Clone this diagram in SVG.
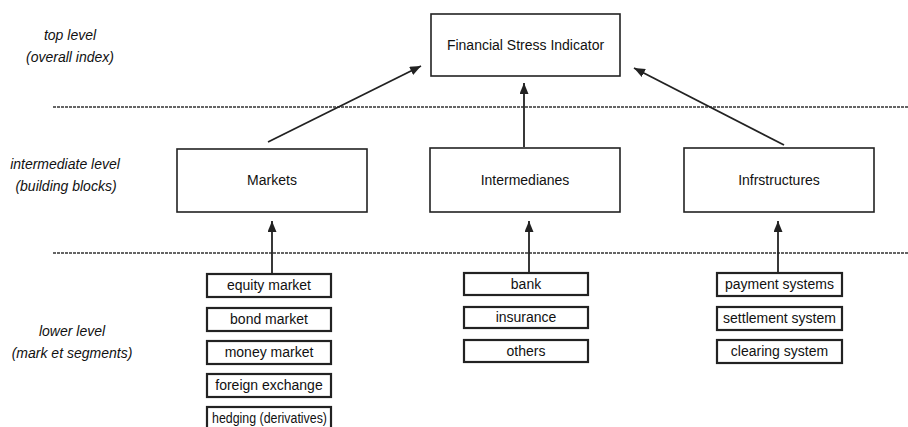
<svg xmlns="http://www.w3.org/2000/svg" width="908" height="427" viewBox="0 0 908 427">
<style>
text{font-family:"Liberation Sans",Arial,sans-serif;font-size:14px;fill:#111;text-anchor:middle}
.lvl{font-style:italic}
.big{fill:#fff;stroke:#222;stroke-width:1.6}
.small{fill:#fff;stroke:#222;stroke-width:2.2}
.dash{stroke:#333;stroke-width:1.6;stroke-dasharray:3 1;fill:none}
.conn{stroke:#222;stroke-width:1.8;fill:none;marker-end:url(#ah)}
</style>
<defs>
<marker id="ah" markerUnits="userSpaceOnUse" markerWidth="11" markerHeight="9" refX="11" refY="4.5" orient="auto">
<path d="M0,0 L11,4.5 L0,9 z" fill="#222"/>
</marker>
</defs>
<rect width="908" height="427" fill="#fff"/>
<g id="levels">
<text class="lvl" x="70" y="40">top level</text>
<text class="lvl" x="70" y="62">(overall index)</text>
<text class="lvl" x="65" y="169">intermediate level</text>
<text class="lvl" x="66" y="191">(building blocks)</text>
<text class="lvl" x="72" y="336">lower level</text>
<text class="lvl" x="72" y="358">(mark et segments)</text>
</g>
<g id="separators">
<line class="dash" x1="53" y1="107" x2="908" y2="107"/>
<line class="dash" x1="53" y1="253" x2="908" y2="253"/>
</g>
<g id="fsi"><rect class="big" x="431" y="14" width="189" height="62"/><text x="525.5" y="50">Financial Stress Indicator</text></g>
<g id="markets"><rect class="big" x="177" y="149" width="190" height="63"/><text x="272" y="185">Markets</text></g>
<g id="intermediaries"><rect class="big" x="430" y="148" width="190" height="64"/><text x="525" y="185">Intermedianes</text></g>
<g id="infrastructures"><rect class="big" x="684" y="148" width="190" height="64"/><text x="779" y="185">Infrstructures</text></g>
<g id="equity"><rect class="small" x="207" y="274" width="124" height="23"/><text x="269" y="290">equity market</text></g>
<g id="bond"><rect class="small" x="207" y="308" width="124" height="23"/><text x="269" y="324">bond market</text></g>
<g id="money"><rect class="small" x="207" y="341" width="124" height="23"/><text x="269" y="357">money market</text></g>
<g id="fx"><rect class="small" x="207" y="374" width="124" height="23"/><text x="269" y="390">foreign exchange</text></g>
<g id="hedging"><rect class="small" x="207" y="407" width="124" height="23"/><text x="269.5" y="423" textLength="115" lengthAdjust="spacingAndGlyphs">hedging (derivatives)</text></g>
<g id="bank"><rect class="small" x="464" y="273" width="124" height="22"/><text x="526" y="289">bank</text></g>
<g id="insurance"><rect class="small" x="464" y="307" width="124" height="21"/><text x="526" y="322">insurance</text></g>
<g id="others"><rect class="small" x="464" y="340" width="124" height="22"/><text x="526" y="356">others</text></g>
<g id="payment"><rect class="small" x="717" y="273" width="125" height="23"/><text x="779.5" y="289">payment systems</text></g>
<g id="settlement"><rect class="small" x="717" y="307" width="125" height="23"/><text x="779.5" y="323">settlement system</text></g>
<g id="clearing"><rect class="small" x="717" y="340" width="125" height="23"/><text x="779.5" y="356">clearing system</text></g>
<g id="connectors">
<line class="conn" x1="268" y1="142" x2="421" y2="66"/>
<line class="conn" x1="524" y1="147" x2="524" y2="83"/>
<line class="conn" x1="784" y1="145" x2="634" y2="68"/>
<line class="conn" x1="272" y1="273" x2="272" y2="221"/>
<line class="conn" x1="529" y1="272" x2="529" y2="221"/>
<line class="conn" x1="778" y1="272" x2="778" y2="221"/>
</g>
</svg>
